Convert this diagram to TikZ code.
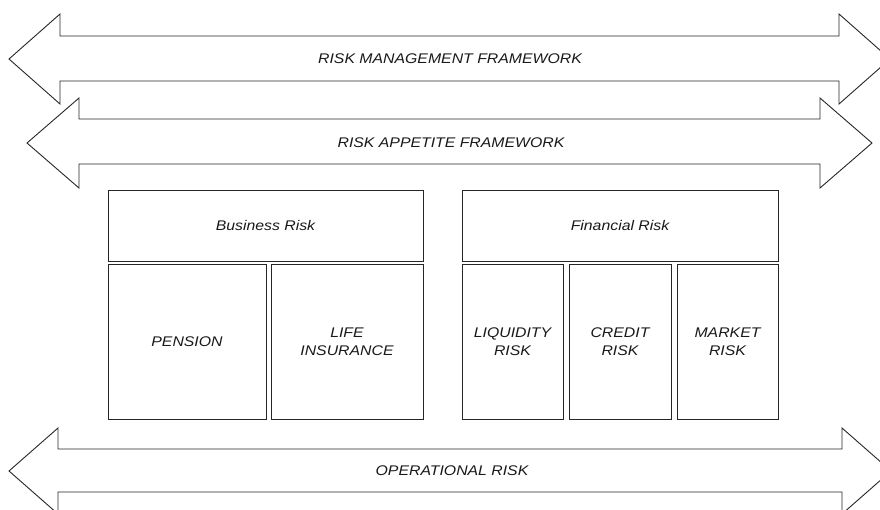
\documentclass[tikz,border=0pt]{standalone}
\usepackage{fontspec}
\setmainfont{Liberation Sans}[ItalicFeatures={FakeStretch=1.13}]
\begin{document}
\begin{tikzpicture}[x=1pt,y=-1pt,
  outline/.style={draw=black!85,line width=0.9pt,line join=miter},
  lbl/.style={font=\fontsize{14}{17.5}\selectfont\itshape,text=black!90,align=center,inner sep=0pt},
  box/.style={outline,font=\fontsize{14}{17.5}\selectfont\itshape,text=black!90,align=center,inner sep=0pt}]
\useasboundingbox (0,0) rectangle (880,509);
\clip (0,0) rectangle (880,509);
% Risk management framework arrow
\draw[outline] (9,59) -- (60,14) -- (60,36) -- (839,36) -- (839,14) -- (890,59) -- (839,104) -- (839,81) -- (60,81) -- (60,104) -- cycle;
\node[lbl] (rmf) at (450,59) {RISK MANAGEMENT FRAMEWORK};
% Risk appetite framework arrow
\draw[outline] (27,143) -- (79,98) -- (79,119) -- (820,119) -- (820,98) -- (872,143) -- (820,188) -- (820,164) -- (79,164) -- (79,188) -- cycle;
\node[lbl] (raf) at (451,143) {RISK APPETITE FRAMEWORK};
% Operational risk arrow
\draw[outline] (9,471) -- (58,428) -- (58,449) -- (842,449) -- (842,428) -- (891,471) -- (842,514) -- (842,492) -- (58,492) -- (58,514) -- cycle;
\node[lbl] (opr) at (452,471) {OPERATIONAL RISK};
% Business risk
\node[box,minimum width=315pt,minimum height=71pt] (bus) at (265.5,225.5) {Business Risk};
\node[box,minimum width=158pt,minimum height=155pt] (pen) at (187,341.5) {PENSION};
\node[box,minimum width=152pt,minimum height=155pt] (life) at (347,341.5) {LIFE\\INSURANCE};
% Financial risk
\node[box,minimum width=316pt,minimum height=71pt] (fin) at (620,225.5) {Financial Risk};
\node[box,minimum width=101pt,minimum height=155pt] (liq) at (512.5,341.5) {LIQUIDITY\\RISK};
\node[box,minimum width=102pt,minimum height=155pt] (cred) at (620,341.5) {CREDIT\\RISK};
\node[box,minimum width=101pt,minimum height=155pt] (mkt) at (727.5,341.5) {MARKET\\RISK};
\end{tikzpicture}
\end{document}
